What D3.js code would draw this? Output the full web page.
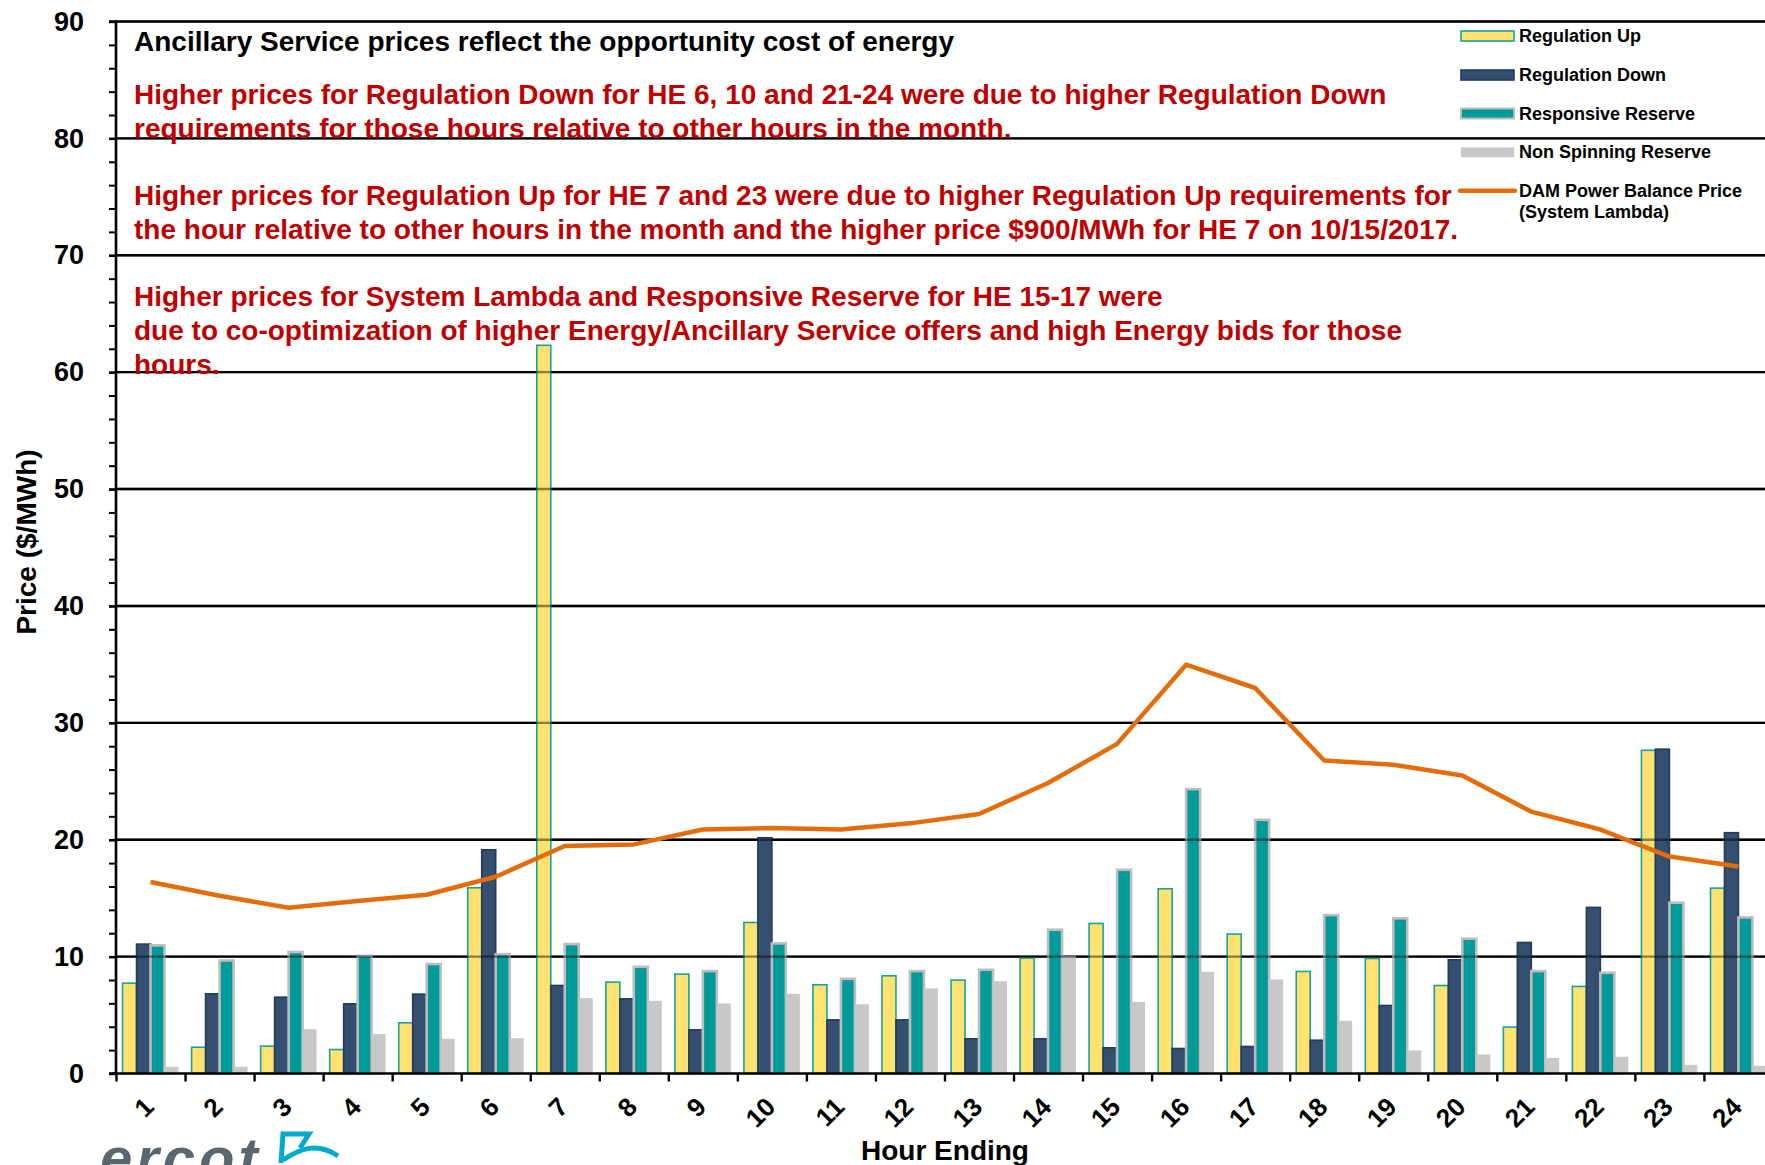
<!DOCTYPE html>
<html>
<head>
<meta charset="utf-8">
<script src="https://cdn.jsdelivr.net/npm/d3@7"></script>
<style>
  html, body { margin: 0; padding: 0; background: #fff; }
  svg { display: block; }
  text { font-family: "Liberation Sans", Arial, sans-serif; font-weight: bold; }
</style>
</head>
<body>
<svg id="chart" width="1765" height="1165"></svg>
<script>
// ---------------- DATA ----------------
const hours = d3.range(1, 25).map(String);
const seriesNames = ["Regulation Up", "Regulation Down", "Responsive Reserve", "Non Spinning Reserve"];
const lineName = ["DAM Power Balance Price", "(System Lambda)"];

const regUp   = [7.73, 2.25, 2.34, 2.05, 4.34, 15.89, 62.3, 7.82, 8.50, 12.92, 7.59, 8.36, 7.99, 9.87, 12.84, 15.80, 11.93, 8.73, 9.84, 7.53, 3.97, 7.45, 27.65, 15.86];
const regDown = [11.07, 6.82, 6.53, 5.96, 6.79, 19.14, 7.53, 6.39, 3.74, 20.17, 4.59, 4.59, 2.97, 2.97, 2.20, 2.14, 2.31, 2.85, 5.82, 9.73, 11.21, 14.21, 27.75, 20.60];
const rrs     = [10.96, 9.67, 10.39, 10.07, 9.36, 10.21, 11.07, 9.13, 8.76, 11.13, 8.10, 8.76, 8.87, 12.30, 17.43, 24.33, 21.70, 13.55, 13.27, 11.53, 8.76, 8.62, 14.61, 13.35];
const nonSpin = [0.57, 0.57, 3.79, 3.37, 2.97, 3.02, 6.45, 6.22, 5.99, 6.82, 5.93, 7.28, 7.90, 10.07, 6.13, 8.70, 8.05, 4.51, 1.97, 1.63, 1.34, 1.43, 0.74, 0.66];
const systemLambda = [16.38, 15.20, 14.18, 14.75, 15.29, 16.83, 19.46, 19.60, 20.88, 21.00, 20.88, 21.40, 22.20, 24.85, 28.20, 34.97, 32.98, 26.78, 26.41, 25.50, 22.40, 20.87, 18.56, 17.71];

const yTicks = [0, 10, 20, 30, 40, 50, 60, 70, 80, 90];

const titleLine = "Ancillary Service prices reflect the opportunity cost of energy";
const noteLines = [
  "Higher prices for Regulation Down for HE 6, 10 and 21-24 were due to higher Regulation Down",
  "requirements for those hours relative to other hours in the month.",
  "",
  "Higher prices for Regulation Up for HE 7 and 23 were due to higher Regulation Up requirements for",
  "the hour relative to other hours in the month and the higher price $900/MWh for HE 7 on 10/15/2017.",
  "",
  "Higher prices for System Lambda and Responsive Reserve for HE 15-17 were",
  "due to co-optimization of higher Energy/Ancillary Service offers and high Energy bids for those",
  "hours."
];

// ---------------- STYLES ----------------
const seriesData = [regUp, regDown, rrs, nonSpin];
const fills   = ["#FFE270", "#344F70", "#009A98", "#C8C8C8"];
const strokes = ["#17A39D", "#233C5E", "#BDBDBD", "#C8C8C8"];
const strokeW = [1.6, 1.6, 2.6, 0];
const lineColor = "#E46C0A";

// ---------------- LAYOUT ----------------
const svg = d3.select("#chart");
const left = 116, step = 69.04, right = left + 24 * step;
const yTop = 21.5, yBottom = 1073.5;

const x0 = d3.scaleBand().domain(hours).range([left, right]).paddingInner(0.19).paddingOuter(0.095);
const x1 = d3.scaleBand().domain(seriesNames).range([0, x0.bandwidth()]);
const xEdge = d3.scaleLinear().domain([0, 24]).range([left, right]);
const y = d3.scaleLinear().domain([0, 90]).range([yBottom, yTop]);

svg.append("rect").attr("width", 1765).attr("height", 1165).attr("fill", "#fff");

// gridlines (under)
const gridVals = yTicks.filter(v => v > 0);
function drawGrid(opacity) {
  svg.append("g").selectAll("line").data(gridVals).join("line")
    .attr("x1", left).attr("x2", 1765)
    .attr("y1", d => y(d)).attr("y2", d => y(d))
    .attr("stroke", "#000").attr("stroke-width", 2.4).attr("opacity", opacity);
}
drawGrid(1);

// bars
const barG = svg.append("g");
seriesNames.forEach((name, si) => {
  barG.append("g").selectAll("rect").data(hours).join("rect")
    .attr("x", (h) => x0(h) + x1(name))
    .attr("width", x1.bandwidth())
    .attr("y", (h, i) => y(seriesData[si][i]))
    .attr("height", (h, i) => y(0) - y(seriesData[si][i]))
    .attr("fill", fills[si])
    .attr("stroke", strokeW[si] > 0 ? strokes[si] : "none")
    .attr("stroke-width", strokeW[si]);
});

// gridlines overlay (seen through bars)
drawGrid(0.45);

// system lambda line
const line = d3.line()
  .x((d, i) => x0(hours[i]) + x0.bandwidth() / 2)
  .y(d => y(d));
svg.append("path").datum(systemLambda)
  .attr("d", line)
  .attr("fill", "none")
  .attr("stroke", lineColor)
  .attr("stroke-width", 4.5)
  .attr("stroke-linejoin", "round");

// y axis
const yMinor = d3.range(0, 91, 2);
const yAxisMinor = d3.axisLeft(y).tickValues(yMinor).tickSize(7).tickFormat("");
const gyMinor = svg.append("g").attr("transform", `translate(${left},0)`).call(yAxisMinor);
gyMinor.select(".domain").remove();
gyMinor.selectAll("line").attr("stroke", "#000").attr("stroke-width", 2);

const yAxis = d3.axisLeft(y).tickValues(yTicks).tickSize(7).tickPadding(25).tickFormat(d3.format("d"));
const gy = svg.append("g").attr("transform", `translate(${left},0)`).call(yAxis);
gy.select(".domain").attr("stroke", "#000").attr("stroke-width", 2.6).attr("d", `M-7,${yTop}H0V${yBottom}H-7`);
gy.selectAll("line").attr("stroke", "#000").attr("stroke-width", 2.4);
gy.selectAll("text").attr("font-size", 27).attr("fill", "#000")
  .attr("font-family", "'Liberation Sans', Arial, sans-serif").attr("font-weight", "bold");

// x axis: boundary ticks
const xAxisEdges = d3.axisBottom(xEdge).tickValues(d3.range(0, 25)).tickSize(8).tickFormat("");
const gxE = svg.append("g").attr("transform", `translate(0,${yBottom})`).call(xAxisEdges);
gxE.select(".domain").attr("stroke", "#000").attr("stroke-width", 2.6).attr("d", `M${left - 4},0H${right}`);
gxE.selectAll("line").attr("stroke", "#000").attr("stroke-width", 2.4);

// x axis: category labels
const xAxis = d3.axisBottom(x0).tickSize(0).tickPadding(0);
const gx = svg.append("g").attr("transform", `translate(0,${yBottom})`).call(xAxis);
gx.select(".domain").remove();
gx.selectAll("text")
  .attr("font-size", 26).attr("fill", "#000")
  .attr("font-family", "'Liberation Sans', Arial, sans-serif").attr("font-weight", "bold")
  .attr("text-anchor", "end")
  .attr("x", 0).attr("y", 0).attr("dy", 0)
  .attr("transform", "translate(5,35) rotate(-45)");

// axis titles
svg.append("text").attr("x", 945).attr("y", 1160).attr("text-anchor", "middle")
  .attr("font-size", 28).attr("fill", "#000").text("Hour Ending");
svg.append("text").attr("transform", "translate(36,542) rotate(-90)").attr("text-anchor", "middle")
  .attr("font-size", 28).attr("fill", "#000").text("Price ($/MWh)");

// annotations
svg.append("text").attr("x", 134).attr("y", 51).attr("font-size", 28).attr("fill", "#000").text(titleLine);
svg.append("g").selectAll("text").data(noteLines).join("text")
  .attr("x", 134).attr("y", (d, i) => 104.3 + i * 33.65)
  .attr("font-size", 28).attr("fill", "#C00000").text(d => d);

// legend
const legY = [36, 75, 113.5, 152.3];
const lg = svg.append("g");
seriesNames.forEach((name, i) => {
  lg.append("rect").attr("x", 1461).attr("y", legY[i] - 5).attr("width", 53).attr("height", 10)
    .attr("fill", fills[i]).attr("stroke", strokeW[i] > 0 ? strokes[i] : "none").attr("stroke-width", Math.min(strokeW[i], 2));
  lg.append("text").attr("x", 1519).attr("y", legY[i] + 6).attr("font-size", 18).attr("fill", "#000").text(name);
});
lg.append("line").attr("x1", 1460).attr("x2", 1515).attr("y1", 190.7).attr("y2", 190.7)
  .attr("stroke", lineColor).attr("stroke-width", 4.5).attr("stroke-linecap", "round");
lineName.forEach((t, i) => {
  lg.append("text").attr("x", 1519).attr("y", 196.7 + i * 21.6).attr("font-size", 18).attr("fill", "#000").text(t);
});

// ercot logo (cut off at bottom, as in the reference)
svg.append("text").attr("x", 100).attr("y", 1178).attr("font-size", 58)
  .attr("font-style", "italic").attr("letter-spacing", 4).attr("fill", "#5B6770").text("ercot");
svg.append("path")
  .attr("d", "M281,1163 L283,1134 L309,1134 L300,1148")
  .attr("fill", "none").attr("stroke", "#00A9CE").attr("stroke-width", 5).attr("stroke-linejoin", "miter");
svg.append("path")
  .attr("d", "M283,1160 C298,1150 316,1141 338,1156")
  .attr("fill", "none").attr("stroke", "#00A9CE").attr("stroke-width", 5);
</script>
</body>
</html>
